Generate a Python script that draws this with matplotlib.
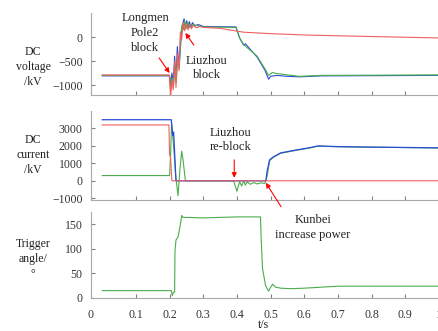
import numpy as np
import matplotlib
matplotlib.use("Agg")
import matplotlib.pyplot as plt

plt.rcParams["font.family"] = ["Liberation Serif", "DejaVu Serif"]
plt.rcParams["font.size"] = 8.5

RED, BLUE, GREEN = "#f06060", "#2a4ad8", "#4aad4a"

# ---- DC voltage (kV) ----
volt_red_t = [0, 0.199, 0.203, 0.207, 0.211, 0.215, 0.219, 0.223, 0.228, 0.232, 0.236, 0.240,
              0.245, 0.250, 0.255, 0.260, 0.265, 0.270, 0.280, 0.290, 0.300, 0.350, 0.420,
              0.500, 0.610, 0.800, 1.0]
volt_red_v = [-790, -790, -1250, -900, -1100, -500, -1050, -350, -700, 100, -50, 300,
              130, 280, 150, 260, 170, 240, 190, 220, 200, 180, 100,
              70, 40, 10, -20]

volt_blue_t = [0, 0.200, 0.203, 0.207, 0.211, 0.215, 0.219, 0.223, 0.228, 0.232, 0.236, 0.240,
               0.243, 0.247, 0.251, 0.255, 0.259, 0.263, 0.268, 0.275, 0.285, 0.300, 0.397,
               0.408, 0.420, 0.425, 0.460, 0.483, 0.494, 0.500, 0.517, 0.550, 0.586, 0.650, 1.0]
volt_blue_v = [-810, -810, -1000, -750, -950, -400, -900, -200, -600, -250, 150, 300,
               380, 180, 340, 190, 320, 200, 300, 230, 260, 220, 210,
               -20, -170, -140, -420, -690, -880, -820, -800, -820, -830, -810, -800]

volt_green_t = [0, 0.200, 0.204, 0.208, 0.212, 0.216, 0.220, 0.224, 0.229, 0.233, 0.237, 0.241,
                0.245, 0.250, 0.255, 0.260, 0.270, 0.285, 0.300, 0.397, 0.408, 0.420, 0.460,
                0.483, 0.494, 0.505, 0.517, 0.586, 0.650, 1.0]
volt_green_v = [-800, -800, -1100, -850, -1000, -600, -950, -450, -650, 50, 250, 150,
                330, 180, 300, 200, 260, 230, 210, 200, -20, -160, -400,
                -660, -800, -740, -760, -820, -800, -790]

# ---- DC current ----
curr_red_t = [0, 0.198, 0.200, 0.203, 0.207, 1.0]
curr_red_v = [3200, 3200, 1500, 1300, 0, 0]

curr_blue_t = [0, 0.205, 0.209, 0.212, 0.219, 0.486, 0.490, 0.497, 0.508, 0.530, 0.580,
               0.614, 0.640, 0.700, 0.800, 0.900, 1.0]
curr_blue_v = [3500, 3500, 2600, 2800, 0, 0, 600, 1200, 1370, 1600, 1780,
               1890, 2000, 1960, 1930, 1910, 1890]

curr_green_t = [0, 0.200, 0.203, 0.206, 0.212, 0.218, 0.225, 0.231, 0.236, 0.240, 0.247,
                0.390, 0.400, 0.408, 0.414, 0.420, 0.425, 0.430, 0.440, 0.450, 0.460,
                0.470, 0.483, 0.490, 0.497, 0.508, 0.530, 0.580, 0.614, 0.640, 0.700, 1.0]
curr_green_v = [300, 300, 1500, 3300, 2000, 300, -850, 700, 1700, 1200, 0,
                0, -600, -50, -300, 0, -250, -60, -200, -100, -180,
                -120, -150, 300, 1150, 1350, 1580, 1760, 1870, 1980, 1950, 1880]

# ---- Trigger angle ----
angle_t = [0, 0.205, 0.208, 0.212, 0.215, 0.216, 0.219, 0.225, 0.231, 0.236, 0.240, 0.250,
           0.300, 0.350, 0.400, 0.470, 0.472, 0.476, 0.485, 0.494, 0.500, 0.506, 0.515,
           0.530, 0.560, 0.600, 0.650, 0.700, 0.800, 1.0]
angle_v = [15, 15, 5, 12, 12, 95, 118, 124, 145, 168, 164, 164,
           163, 164, 165, 165, 120, 60, 25, 14, 22, 28, 22,
           20, 19, 20, 22, 24, 24, 24]

fig = plt.figure(figsize=(4.39, 3.31), dpi=100)
L, W = 91 / 439, 348 / 439
ax1 = fig.add_axes([L, 1 - 94.6 / 331, W, 81.6 / 331])
ax2 = fig.add_axes([L, 1 - 200 / 331, W, 89 / 331])
ax3 = fig.add_axes([L, 1 - 298 / 331, W, 86 / 331])

ax1.plot(volt_blue_t, volt_blue_v, color=BLUE, lw=0.8)
ax1.plot(volt_green_t, volt_green_v, color=GREEN, lw=0.8)
ax1.plot(volt_red_t, volt_red_v, color=RED, lw=0.8)
ax1.set_ylim(-1200, 500)
ax1.set_yticks([-1000, -500, 0])

ax2.plot(curr_green_t, curr_green_v, color=GREEN, lw=0.8)
ax2.plot(curr_blue_t, curr_blue_v, color=BLUE, lw=0.9)
ax2.plot(curr_red_t, curr_red_v, color=RED, lw=0.8)
ax2.set_ylim(-1100, 4000)
ax2.set_yticks([-1000, 0, 1000, 2000, 3000])

ax3.plot(angle_t, angle_v, color=GREEN, lw=0.8)
ax3.set_ylim(0, 175)
ax3.set_yticks([0, 50, 100, 150])

x0 = -1 / 30
xt = [x0] + [round(0.1 * i, 1) for i in range(1, 11)]
xl = ["0"] + [f"{v:g}" for v in xt[1:]]
for ax in (ax1, ax2, ax3):
    ax.set_xlim(x0, 1.0)
    ax.set_xticks(xt)
    for s in ("top", "right"):
        ax.spines[s].set_visible(False)
    for s in ("left", "bottom"):
        ax.spines[s].set_color("#a8a8a8")
        ax.spines[s].set_linewidth(0.8)
    ax.tick_params(direction="in", length=3, color="#808080", labelcolor="#333333", pad=6)
    ax.patch.set_alpha(0)
ax1.set_xticklabels([])
ax2.set_xticklabels([])
ax3.set_xticklabels(xl)
ax3.tick_params(axis="x", pad=8)

lab = dict(ha="center", va="center", color="#222222", fontsize=8.5, linespacing=1.3)
fig.text(33 / 439, 1 - 67 / 331, "DC\nvoltage\n/kV", **lab)
fig.text(33 / 439, 1 - 155 / 331, "DC\ncurrent\n/kV", **lab)
fig.text(33 / 439, 1 - 259 / 331, "Trigger\nangle/\n°", **lab)
fig.text(263 / 439, 1 - 325 / 331, "t/s", **lab)

box = dict(boxstyle="square,pad=0.2", fc="white", ec="white", lw=0.5)
arr = dict(arrowstyle="-|>", color="red", lw=0.8, mutation_scale=7, shrinkA=0, shrinkB=0)
txt = dict(ha="center", va="center", color="#222222", linespacing=1.3, fontsize=9, bbox=box)

ax1.text(0.128, 83, "Longmen\nPole2\nblock", **txt)
ax1.annotate("", xy=(0.200, -750), xytext=(0.169, -437), arrowprops=arr)
ax1.text(0.311, -646, "Liuzhou\nblock", **txt)
ax1.annotate("", xy=(0.247, 83), xytext=(0.272, -167), arrowprops=arr)

ax2.text(0.381, 2343, "Liuzhou\nre-block", **txt)
ax2.annotate("", xy=(0.392, 170), xytext=(0.392, 1200), arrowprops=arr)
ax2.annotate("", xy=(0.486, -114), xytext=(0.531, -1486), arrowprops=arr,
             annotation_clip=False)
ax3.text(0.625, 143, "Kunbei\nincrease power", **txt)

fig.savefig("out.png", dpi=100)
